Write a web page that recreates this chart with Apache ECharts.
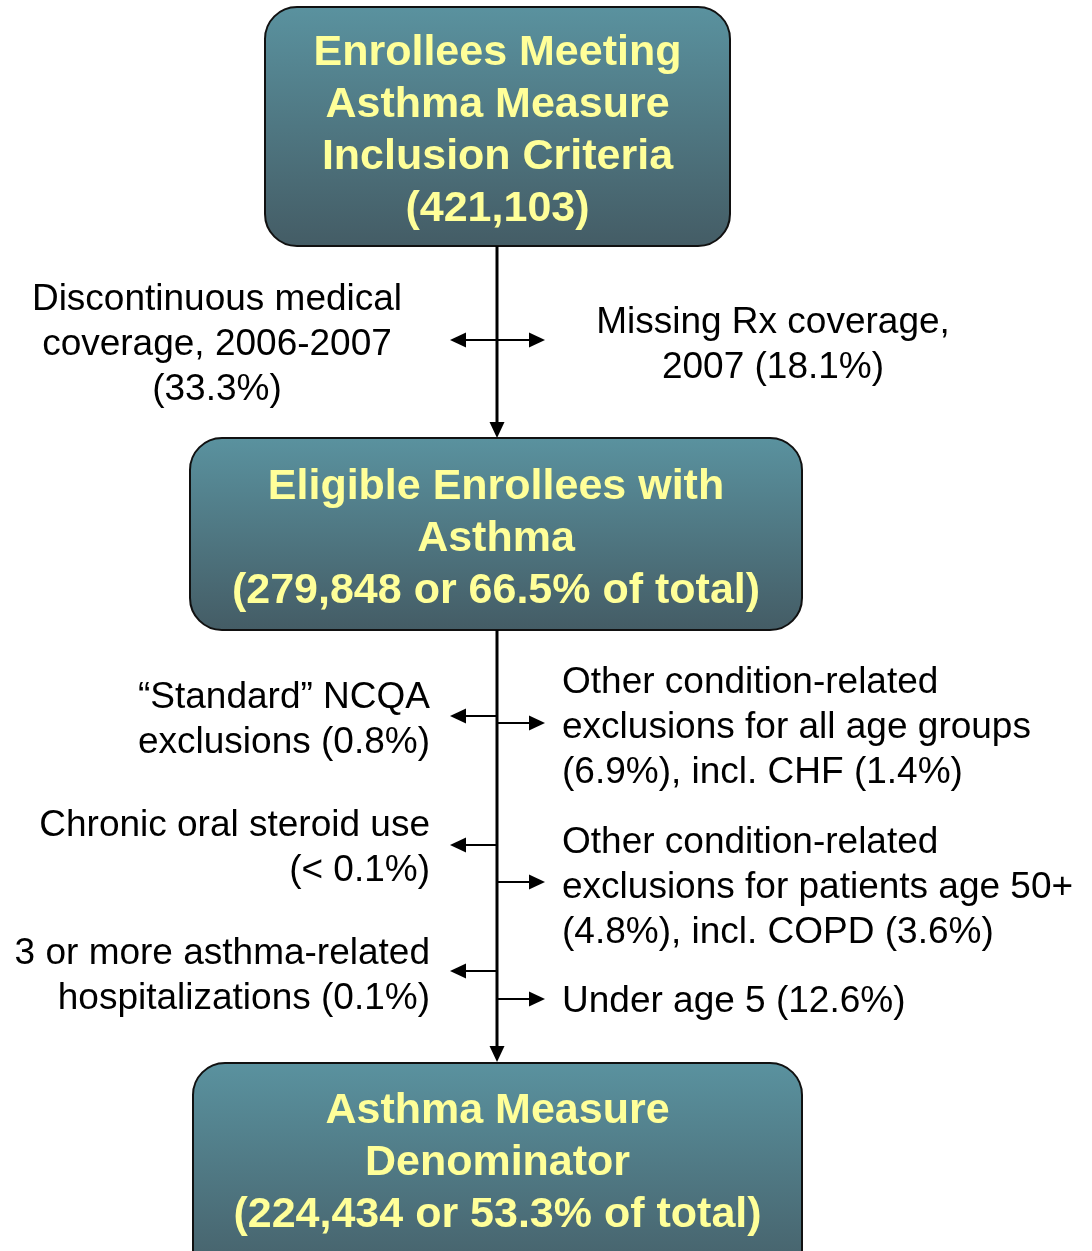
<!DOCTYPE html>
<html>
<head>
<meta charset="utf-8">
<title>Asthma measure flow</title>
<script src="https://cdn.jsdelivr.net/npm/echarts@6/dist/echarts.min.js"></script>
<style>
  html, body { margin: 0; padding: 0; background: #fff; }
  #main { width: 1092px; height: 1251px; }
</style>
</head>
<body>
<div id="main"></div>
<script>
// 方框标题
var boxTitles = [
    'Enrollees Meeting\nAsthma Measure\nInclusion Criteria\n(421,103)',
    'Eligible Enrollees with\nAsthma\n(279,848 or 66.5% of total)',
    'Asthma Measure\nDenominator\n(224,434 or 53.3% of total)'
];
// 第一步排除
var step1Left = ['Discontinuous medical\ncoverage, 2006-2007\n(33.3%)'];
var step1Right = ['Missing Rx coverage,\n2007 (18.1%)'];
// 第二步排除
var step2Left = [
    '\u201cStandard\u201d NCQA\nexclusions (0.8%)',
    'Chronic oral steroid use\n(< 0.1%)',
    '3 or more asthma-related\nhospitalizations (0.1%)'
];
var step2Right = [
    'Other condition-related\nexclusions for all age groups\n(6.9%), incl. CHF (1.4%)',
    'Other condition-related\nexclusions for patients age 50+\n(4.8%), incl. COPD (3.6%)',
    'Under age 5 (12.6%)'
];

// 布局 (px)
var spineX = 497;
var boxLayout = [
    {x: 265, y: 7, w: 465, h: 239, ty: 131},
    {x: 190, y: 438, w: 612, h: 192, ty: 539},
    {x: 193, y: 1063, w: 609, h: 230, ty: 1163}
];
var step1Y = 340;          // 双向箭头
var step1TextY = 345;
var step2LeftArrowY = [716, 845, 971];
var step2RightArrowY = [723, 882, 999];
var step2LeftTextY = [720, 848, 976];
var step2RightTextY = [728, 888, 1002];

var FONT = '"Liberation Sans", Arial, sans-serif';
var HEAD_LEN = 16, HEAD_HALF = 7.5;
var elements = [];

function arrowHead(tx, ty, dir) {
    var pts;
    if (dir === 'l') pts = [[tx, ty], [tx + HEAD_LEN, ty - HEAD_HALF], [tx + HEAD_LEN, ty + HEAD_HALF]];
    else if (dir === 'r') pts = [[tx, ty], [tx - HEAD_LEN, ty - HEAD_HALF], [tx - HEAD_LEN, ty + HEAD_HALF]];
    else pts = [[tx, ty], [tx - HEAD_HALF, ty - HEAD_LEN], [tx + HEAD_HALF, ty - HEAD_LEN]];
    return {type: 'polygon', shape: {points: pts}, style: {fill: '#000'}, z: 5};
}
function line(x1, y1, x2, y2, w) {
    return {type: 'line', shape: {x1: x1, y1: y1, x2: x2, y2: y2}, style: {stroke: '#000', lineWidth: w}, z: 4};
}

// 方框
boxTitles.forEach(function (t, i) {
    var b = boxLayout[i];
    elements.push({
        type: 'rect',
        shape: {x: b.x, y: b.y, width: b.w, height: b.h, r: 32},
        style: {
            fill: new echarts.graphic.LinearGradient(0, 0, 0, 1, [
                {offset: 0, color: '#5a929f'},
                {offset: 1, color: '#445c65'}
            ]),
            stroke: '#111',
            lineWidth: 2
        },
        z: 2
    });
    elements.push({
        type: 'text',
        x: b.x + b.w / 2, y: b.ty,
        style: {
            text: t, fill: '#ffff99', font: 'bold 43px ' + FONT,
            align: 'center', verticalAlign: 'middle', lineHeight: 52
        },
        z: 6
    });
});

// 竖线
var b0 = boxLayout[0], b1 = boxLayout[1], b2 = boxLayout[2];
elements.push(line(spineX, b0.y + b0.h, spineX, b1.y - 14, 3));
elements.push(arrowHead(spineX, b1.y, 'd'));
elements.push(line(spineX, b1.y + b1.h, spineX, b2.y - 14, 3));
elements.push(arrowHead(spineX, b2.y - 1, 'd'));

// 第一步双向箭头
elements.push(line(462, step1Y, 533, step1Y, 2));
elements.push(arrowHead(450, step1Y, 'l'));
elements.push(arrowHead(545, step1Y, 'r'));

// 第二步箭头
step2LeftArrowY.forEach(function (y) {
    elements.push(line(462, y, spineX, y, 2));
    elements.push(arrowHead(450, y, 'l'));
});
step2RightArrowY.forEach(function (y) {
    elements.push(line(spineX, y, 533, y, 2));
    elements.push(arrowHead(545, y, 'r'));
});

// 文字
function sideText(t, x, y, align) {
    return {
        type: 'text', x: x, y: y,
        style: {
            text: t, fill: '#000', font: '37px ' + FONT,
            align: align, verticalAlign: 'middle', lineHeight: 45
        },
        z: 6
    };
}
elements.push(sideText(step1Left[0], 217, step1TextY, 'center'));
elements.push(sideText(step1Right[0], 773, step1TextY, 'center'));
step2Left.forEach(function (t, i) {
    elements.push(sideText(t, 430, step2LeftTextY[i], 'right'));
});
step2Right.forEach(function (t, i) {
    elements.push(sideText(t, 562, step2RightTextY[i], 'left'));
});

var myChart = echarts.init(document.getElementById('main'));
myChart.setOption({
    backgroundColor: '#fff',
    animation: false,
    graphic: {elements: elements}
});
</script>
</body>
</html>
